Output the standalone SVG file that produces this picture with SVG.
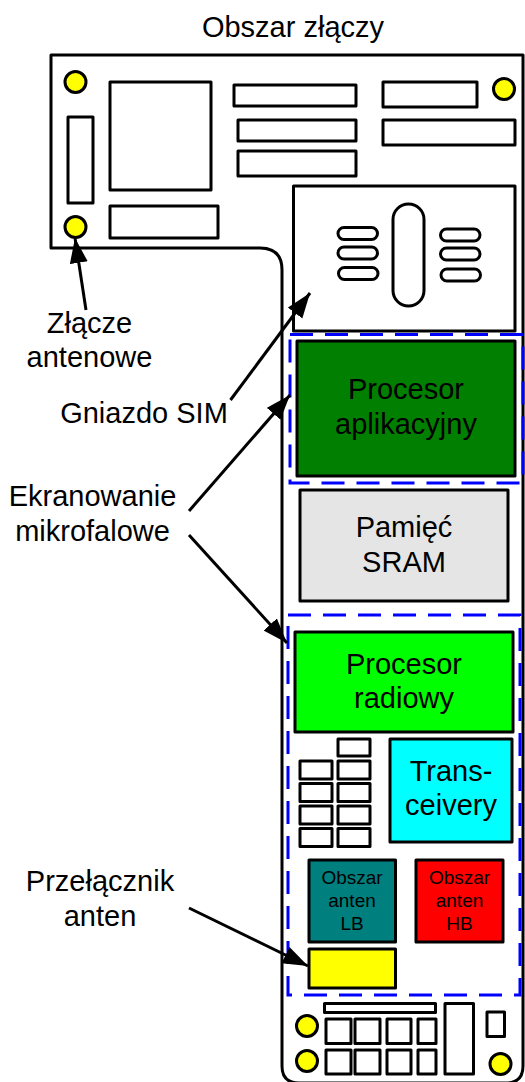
<svg xmlns="http://www.w3.org/2000/svg" width="525" height="1082" viewBox="0 0 525 1082">
<style>
text{font-family:"Liberation Sans",Arial,sans-serif;font-size:29px;fill:#000;text-anchor:middle}
.sm{font-size:19px}
.b{fill:#fff;stroke:#000;stroke-width:3;stroke-linejoin:round}
.c{fill:#ff0;stroke:#000;stroke-width:3}
.d{fill:none;stroke:#00f;stroke-width:3;stroke-dasharray:23 12}
.a{fill:none;stroke:#000;stroke-width:3;marker-end:url(#ah)}
</style>
<defs>
<marker id="ah" markerUnits="userSpaceOnUse" markerWidth="28" markerHeight="20" refX="25" refY="9" orient="auto">
<path d="M0 0L25 9L0 18Z" fill="#000"/>
</marker>
</defs>
<rect width="525" height="1082" fill="#fff"/>
<g id="board">
<path d="M51 55H523V1066Q523 1083 506 1083H299Q282 1083 282 1066V270Q282 248 260 248H51Z" fill="#fff" stroke="#000" stroke-width="3" stroke-linejoin="round"/>
</g>
<g id="connector-area">
<rect class="b" x="110" y="82" width="101" height="108"/>
<rect class="b" x="234" y="85" width="122" height="21"/>
<rect class="b" x="238" y="120" width="118" height="21"/>
<rect class="b" x="238" y="151" width="118" height="25"/>
<rect class="b" x="383" y="82" width="94" height="25"/>
<rect class="b" x="383" y="120" width="132" height="25"/>
<rect class="b" x="68" y="117" width="25" height="86"/>
<rect class="b" x="110" y="206" width="108" height="32"/>
<circle class="c" cx="75.500" cy="82" r="10.500"/>
<circle class="c" cx="504" cy="89" r="10.500"/>
<circle class="c" cx="75.500" cy="227" r="10.500"/>
</g>
<g id="sim-socket">
<rect class="b" x="293.500" y="186" width="221.500" height="145"/>
<rect class="b" x="393" y="204" width="31" height="102" rx="15.500"/>
<rect class="b" x="338" y="227.500" width="39.500" height="12" rx="6"/>
<rect class="b" x="338" y="247" width="39.500" height="12" rx="6"/>
<rect class="b" x="338.500" y="267.500" width="39.500" height="12" rx="6"/>
<rect class="b" x="440.500" y="229" width="39.500" height="12" rx="6"/>
<rect class="b" x="440.500" y="248" width="39.500" height="12" rx="6"/>
<rect class="b" x="441" y="269" width="39.500" height="12" rx="6"/>
</g>
<g id="shield-app"><rect class="d" x="290" y="334.500" width="233" height="148.500"/></g>
<g id="shield-radio"><rect class="d" x="288" y="615" width="232" height="380"/></g>
<g id="app-processor">
<rect class="b" style="fill:#007f00" x="297" y="341" width="218" height="135"/>
<text x="406" y="399">Procesor</text><text x="406" y="434">aplikacyjny</text>
</g>
<g id="sram">
<rect class="b" style="fill:#e5e5e5" x="300" y="490" width="208" height="111"/>
<text x="404" y="537">Pamięć</text><text x="404" y="572">SRAM</text>
</g>
<g id="radio-processor">
<rect class="b" style="fill:#0f0" x="295" y="632" width="218" height="100"/>
<text x="404" y="674">Procesor</text><text x="404" y="708">radiowy</text>
</g>
<g id="transceivers">
<rect class="b" style="fill:#0ff" x="390" y="739" width="122" height="103"/>
<text x="451" y="781">Trans-</text><text x="451" y="815">ceivery</text>
</g>
<g id="small-parts">
<rect class="b" x="338" y="739" width="32" height="17"/>
<rect class="b" x="300" y="761" width="32" height="18"/>
<rect class="b" x="338" y="761" width="32" height="18"/>
<rect class="b" x="300" y="783.500" width="32" height="18"/>
<rect class="b" x="338" y="783.500" width="32" height="18"/>
<rect class="b" x="300" y="806" width="32" height="18"/>
<rect class="b" x="338" y="806" width="32" height="18"/>
<rect class="b" x="300" y="828.500" width="32" height="18"/>
<rect class="b" x="338" y="828.500" width="32" height="18"/>
</g>
<g id="antenna-lb">
<rect class="b" style="fill:#007f7f" x="309" y="860" width="86.500" height="82"/>
<text class="sm" x="352" y="884">Obszar</text><text class="sm" x="352" y="907">anten</text><text class="sm" x="352" y="930">LB</text>
</g>
<g id="antenna-hb">
<rect class="b" style="fill:#f00" x="416" y="860" width="87" height="82"/>
<text class="sm" x="459.500" y="884">Obszar</text><text class="sm" x="459.500" y="907">anten</text><text class="sm" x="459.500" y="930">HB</text>
</g>
<g id="antenna-switch"><rect class="b" style="fill:#ff0" x="309" y="949" width="86.500" height="39"/></g>
<g id="bottom-parts">
<rect class="b" x="324.500" y="1003.500" width="111" height="9"/>
<rect class="b" x="326" y="1019" width="25" height="24.500"/>
<rect class="b" x="355" y="1019" width="25" height="24.500"/>
<rect class="b" x="387" y="1019" width="24" height="24.500"/>
<rect class="b" x="418" y="1019" width="18" height="24.500"/>
<rect class="b" x="326" y="1050" width="25" height="24"/>
<rect class="b" x="355" y="1050" width="25" height="24"/>
<rect class="b" x="387" y="1050" width="24" height="24"/>
<rect class="b" x="418" y="1050" width="18" height="24"/>
<rect class="b" x="445" y="1003.500" width="28.500" height="70.500"/>
<rect class="b" x="487" y="1012" width="17.500" height="24.500"/>
<circle class="c" cx="307" cy="1026" r="10.500"/>
<circle class="c" cx="307" cy="1061" r="10.500"/>
<circle class="c" cx="500.500" cy="1064" r="10.500"/>
</g>
<g id="connectors">
<line class="a" x1="86" y1="310" x2="75" y2="238"/>
<line class="a" x1="230.500" y1="400" x2="310" y2="293"/>
<line class="a" x1="189" y1="511" x2="290" y2="395"/>
<line class="a" x1="189" y1="535" x2="287" y2="643"/>
<line class="a" x1="189" y1="908" x2="308" y2="966"/>
</g>
<g id="labels">
<text x="293" y="37">Obszar złączy</text>
<text x="89.500" y="333">Złącze</text><text x="89.500" y="367">antenowe</text>
<text x="144" y="423">Gniazdo SIM</text>
<text x="92.500" y="506">Ekranowanie</text><text x="92.500" y="541">mikrofalowe</text>
<text x="100" y="891">Przełącznik</text><text x="100" y="926">anten</text>
</g>
</svg>
